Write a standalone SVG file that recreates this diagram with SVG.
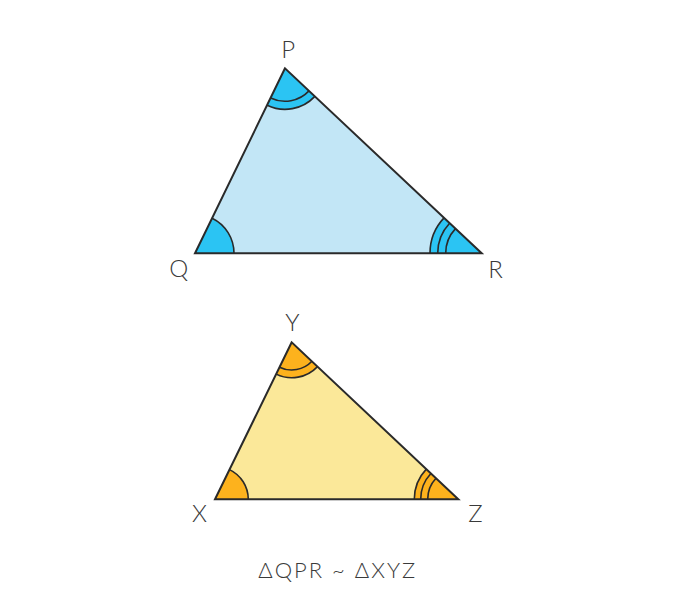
<svg xmlns="http://www.w3.org/2000/svg" width="677" height="589" viewBox="0 0 677 589">
<style>
.lbl{font-family:Lato,"Open Sans","Liberation Sans",sans-serif;font-weight:300;font-size:24px;fill:#3a3a3a;text-anchor:middle}
.cap{font-family:Lato,"Open Sans","Liberation Sans",sans-serif;font-weight:300;font-size:22px;letter-spacing:2px;fill:#3a3a3a;text-anchor:middle}
.arc{fill:none;stroke:#2a2a2a;stroke-width:1.6}
.edge{fill:none;stroke:#2a2a2a;stroke-width:2;stroke-linejoin:miter}
.blue{fill:#2BC4F3}
.orange{fill:#FDB21D}
</style>
<rect width="677" height="589" fill="#ffffff"/>
<g id="triangle-PQR">
<polygon points="285,68.3 195,253.3 481.7,253.3" fill="#C2E6F6"/>
<path class="blue" d="M195,253.3 L234,253.3 A39,39 0 0 0 212.1,218.2 Z"/>
<path class="blue" d="M285,68.3 L267.1,105.2 A41,41 0 0 0 314.9,96.4 Z"/>
<path class="blue" d="M481.7,253.3 L430,253.3 A51.7,51.7 0 0 1 444,217.9 Z"/>
<path class="arc" d="M234,253.3 A39,39 0 0 0 212.1,218.2"/>
<path class="arc" d="M267.1,105.2 A41,41 0 0 0 314.9,96.4"/>
<path class="arc" d="M270.6,98 A33,33 0 0 0 309,90.9"/>
<path class="arc" d="M430,253.3 A51.7,51.7 0 0 1 444,217.9"/>
<path class="arc" d="M437.7,253.3 A44,44 0 0 1 449.6,223.2"/>
<path class="arc" d="M445.7,253.3 A36,36 0 0 1 455.5,228.6"/>
<polygon class="edge" points="285,68.3 195,253.3 481.7,253.3"/>
<text class="lbl" x="288.3" y="58.3">P</text>
<text class="lbl" x="178.7" y="277">Q</text>
<text class="lbl" x="495.5" y="277.7">R</text>
</g>
<g id="triangle-XYZ">
<polygon points="291.7,342.3 215,499.3 458.3,499.3" fill="#FBE899"/>
<path class="orange" d="M215,499.3 L248.3,499.3 A33,33 0 0 0 229.5,469.6 Z"/>
<path class="orange" d="M291.7,342.3 L276.2,374.1 A35.4,35.4 0 0 0 317.5,366.6 Z"/>
<path class="orange" d="M458.3,499.3 L414.3,499.3 A44,44 0 0 1 426.3,469.1 Z"/>
<path class="arc" d="M248.3,499.3 A33,33 0 0 0 229.5,469.6"/>
<path class="arc" d="M276.2,374.1 A35.4,35.4 0 0 0 317.5,366.6"/>
<path class="arc" d="M279.5,367.2 A27.7,27.7 0 0 0 311.9,361.3"/>
<path class="arc" d="M414.3,499.3 A44,44 0 0 1 426.3,469.1"/>
<path class="arc" d="M420.7,499.3 A37.6,37.6 0 0 1 430.9,473.5"/>
<path class="arc" d="M427.7,499.3 A30.6,30.6 0 0 1 436,478.3"/>
<polygon class="edge" points="291.7,342.3 215,499.3 458.3,499.3"/>
<text class="lbl" x="292.5" y="331">Y</text>
<text class="lbl" x="199.5" y="521.7">X</text>
<text class="lbl" x="475.5" y="521.7">Z</text>
</g>
<g id="connectors"></g>
<g id="caption">
<text class="cap" x="337.7" y="578">ΔQPR ~ ΔXYZ</text>
</g>
</svg>
